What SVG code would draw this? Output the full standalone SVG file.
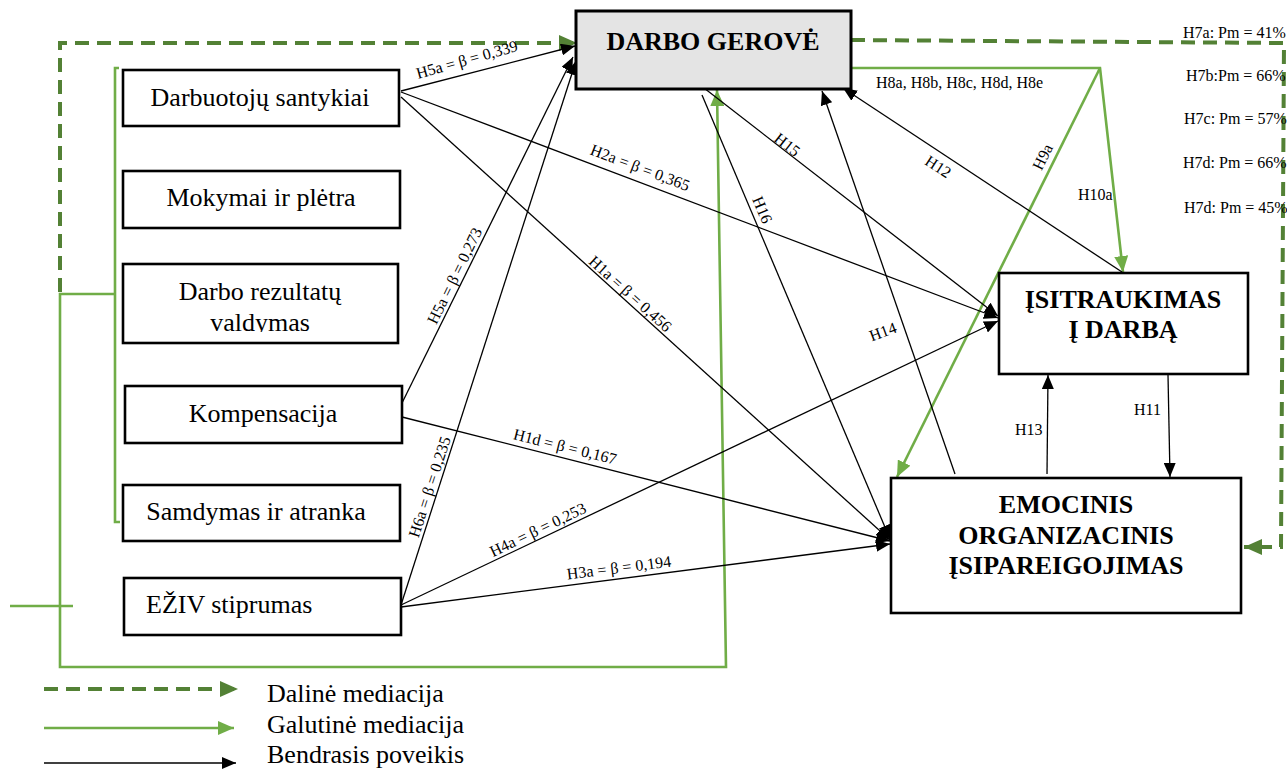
<svg xmlns="http://www.w3.org/2000/svg" width="1287" height="771" viewBox="0 0 1287 771">
  <style>
    .box { fill: #ffffff; stroke: #000000; stroke-width: 2.6; }
    .box-main { fill: #e4e4e4; stroke: #000000; stroke-width: 3; }
    .t { font-family: "Liberation Serif", "Times New Roman", serif; fill: #000000; }
    .node-t { font-size: 26px; text-anchor: middle; }
    .node-t-start { font-size: 26px; text-anchor: start; }
    .title { font-size: 26px; font-weight: bold; text-anchor: middle; }
    .lbl { font-size: 16px; text-anchor: middle; }
    .lbl-l { font-size: 16px; }
    .leg { font-size: 26px; }
    .edge { fill: none; stroke: #000000; stroke-width: 1.3; }
    .edge-b { marker-end: url(#arrow-black); }
    .med-full { fill: none; stroke: #70ad47; stroke-width: 2.6; }
    .med-part { fill: none; stroke: #538135; stroke-width: 4; stroke-dasharray: 14 8; }
  </style>
  <defs>
    <marker id="arrow-black" markerUnits="userSpaceOnUse" markerWidth="14" markerHeight="12" refX="14" refY="6" orient="auto">
      <path d="M0,0 L14,6 L0,12 Z" fill="#000000"/>
    </marker>
    <marker id="arrow-green" markerUnits="userSpaceOnUse" markerWidth="16" markerHeight="14" refX="16" refY="7" orient="auto">
      <path d="M0,0 L16,7 L0,14 Z" fill="#70ad47"/>
    </marker>
    <marker id="arrow-dkgreen" markerUnits="userSpaceOnUse" markerWidth="18" markerHeight="16" refX="18" refY="8" orient="auto">
      <path d="M0,0 L18,8 L0,16 Z" fill="#538135"/>
    </marker>
    <clipPath id="clip-valdymas">
      <rect x="120" y="262" width="282" height="70"/>
    </clipPath>
  </defs>

  <rect width="1287" height="771" fill="#ffffff"/>

  <!-- connectors -->
  <g id="connectors">
    <!-- partial mediation (dashed) -->
    <path class="med-part" d="M60,292 V43 H577" marker-end="url(#arrow-dkgreen)"/>
    <path class="med-part" d="M851,40 L1284,43 L1281,547 L1244,547" marker-end="url(#arrow-dkgreen)"/>

    <!-- full mediation (solid green) -->
    <path class="med-full" d="M119,68 H115 V522 H120"/>
    <path class="med-full" d="M115,294 H60 V667 H726 L717,90" marker-end="url(#arrow-green)"/>
    <path class="med-full" d="M10,606 H73" stroke-width="2"/>
    <path class="med-full" d="M851,68 H1100 L1123,272" marker-end="url(#arrow-green)"/>
    <path class="med-full" d="M1100,68 L897,477" marker-end="url(#arrow-green)"/>

    <!-- total effects (black) -->
    <path class="edge edge-b" d="M401,91 L575,46"/>
    <path class="edge edge-b" d="M401,92 L998,318"/>
    <path class="edge edge-b" d="M401,97 L890,540"/>
    <path class="edge edge-b" d="M402,403 L573,57"/>
    <path class="edge edge-b" d="M402,417 L890,541"/>
    <path class="edge edge-b" d="M401,605 L576,61"/>
    <path class="edge edge-b" d="M401,605 L998,321"/>
    <path class="edge edge-b" d="M401,607 L890,544"/>
    <path class="edge edge-b" d="M704,88 L998,316"/>
    <path class="edge edge-b" d="M702,95 L890,539"/>
    <path class="edge edge-b" d="M955,474 L822,91"/>
    <path class="edge edge-b" d="M1122,272 L843,88"/>
    <path class="edge edge-b" d="M1047,474 L1048,375"/>
    <path class="edge edge-b" d="M1168,375 L1170,477"/>

    <!-- connector labels -->
    <text class="t lbl" transform="translate(467,60) rotate(-15.7)" y="5">H5a = β = 0,339</text>
    <text class="t lbl" transform="translate(640,168) rotate(20.8)" y="5">H2a = β = 0,365</text>
    <text class="t lbl" transform="translate(630,294) rotate(42)" y="5">H1a = β = 0,456</text>
    <text class="t lbl" transform="translate(455,276) rotate(-63.8)" y="5">H5a = β = 0,273</text>
    <text class="t lbl" transform="translate(430,487) rotate(-72)" y="5">H6a = β = 0,235</text>
    <text class="t lbl" transform="translate(565,447) rotate(14)" y="5">H1d = β = 0,167</text>
    <text class="t lbl" transform="translate(538,530) rotate(-25.6)" y="5">H4a = β = 0,253</text>
    <text class="t lbl" transform="translate(619,568) rotate(-7.2)" y="5">H3a = β = 0,194</text>
    <text class="t lbl" transform="translate(787,145) rotate(38)" y="5">H15</text>
    <text class="t lbl" transform="translate(762,210) rotate(67)" y="5">H16</text>
    <text class="t lbl" transform="translate(938,167) rotate(33)" y="5">H12</text>
    <text class="t lbl" transform="translate(883,332) rotate(-20)" y="5">H14</text>
    <text class="t lbl" transform="translate(1043,157) rotate(-63.7)" y="5">H9a</text>
    <text class="t lbl-l" x="1078" y="200">H10a</text>
    <text class="t lbl-l" x="1015" y="435">H13</text>
    <text class="t lbl-l" x="1134" y="415">H11</text>
    <text class="t lbl-l" x="876" y="88" font-size="15">H8a, H8b, H8c, H8d, H8e</text>
    <text class="t lbl-l" x="1183" y="38">H7a: Pm = 41%</text>
    <text class="t lbl-l" x="1186" y="81">H7b:Pm = 66%</text>
    <text class="t lbl-l" x="1184" y="124">H7c: Pm = 57%</text>
    <text class="t lbl-l" x="1183" y="168">H7d: Pm = 66%</text>
    <text class="t lbl-l" x="1184" y="213">H7d: Pm = 45%</text>
  </g>

  <!-- nodes -->
  <g id="node-darbuotoju-santykiai">
    <rect class="box" x="123" y="70" width="276" height="56"/>
    <text class="t node-t" x="260" y="106">Darbuotojų santykiai</text>
  </g>
  <g id="node-mokymai">
    <rect class="box" x="123" y="171" width="277" height="57"/>
    <text class="t node-t" x="261" y="206">Mokymai ir plėtra</text>
  </g>
  <g id="node-rezultatu-valdymas">
    <rect class="box" x="123" y="264" width="275" height="79"/>
    <g clip-path="url(#clip-valdymas)">
      <text class="t node-t" x="260" y="300">Darbo rezultatų</text>
      <text class="t node-t" x="260" y="331">valdymas</text>
    </g>
  </g>
  <g id="node-kompensacija">
    <rect class="box" x="125" y="386" width="277" height="57"/>
    <text class="t node-t" x="263" y="422">Kompensacija</text>
  </g>
  <g id="node-samdymas">
    <rect class="box" x="123" y="485" width="277" height="56"/>
    <text class="t node-t" x="256" y="520">Samdymas ir atranka</text>
  </g>
  <g id="node-eziv">
    <rect class="box" x="124" y="578" width="277" height="57"/>
    <text class="t node-t-start" x="146" y="613">EŽIV stiprumas</text>
  </g>
  <g id="node-darbo-gerove">
    <rect class="box-main" x="576" y="11" width="275" height="78"/>
    <text class="t title" x="713" y="50">DARBO GEROVĖ</text>
  </g>
  <g id="node-isitraukimas">
    <rect class="box" x="999" y="273" width="249" height="101"/>
    <text class="t title" x="1123" y="308">ĮSITRAUKIMAS</text>
    <text class="t title" x="1123" y="338">Į DARBĄ</text>
  </g>
  <g id="node-isipareigojimas">
    <rect class="box" x="891" y="478" width="350" height="135"/>
    <text class="t title" x="1066" y="513">EMOCINIS</text>
    <text class="t title" x="1066" y="544">ORGANIZACINIS</text>
    <text class="t title" x="1066" y="574">ĮSIPAREIGOJIMAS</text>
  </g>

  <!-- legend -->
  <g id="legend">
    <path class="med-part" d="M44,689 H238" marker-end="url(#arrow-dkgreen)"/>
    <path class="med-full" d="M44,728 H234" marker-end="url(#arrow-green)"/>
    <path class="edge" d="M44,763 H236" marker-end="url(#arrow-black)"/>
    <text class="t leg" x="267" y="702">Dalinė mediacija</text>
    <text class="t leg" x="267" y="733">Galutinė mediacija</text>
    <text class="t leg" x="267" y="763">Bendrasis poveikis</text>
  </g>
</svg>
